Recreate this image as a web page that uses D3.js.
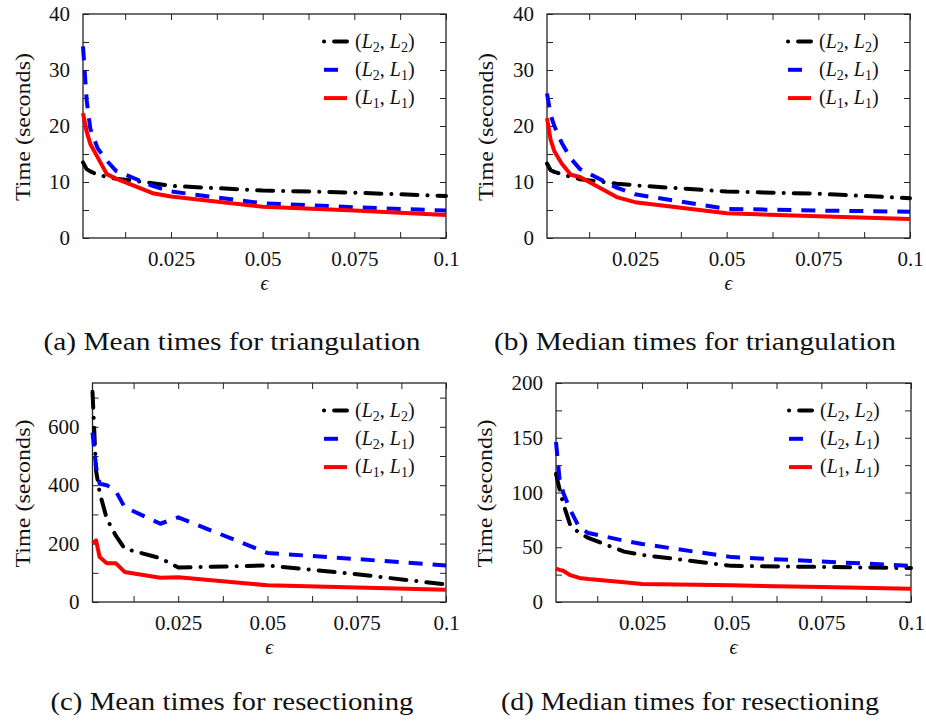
<!DOCTYPE html>
<html>
<head>
<meta charset="utf-8">
<script src="https://cdn.jsdelivr.net/npm/d3@7"></script>
<style>
body { margin:0; background:#fff; }
svg { display:block; font-family:"Liberation Serif", "Times New Roman", serif; }
</style>
</head>
<body>
<div id="vis"></div>
<script>
// epsilon values, shared x for every panel
var eps = [0.001, 0.002, 0.003, 0.005, 0.0075, 0.01, 0.02, 0.025, 0.05, 0.075, 0.1];

// (a) mean times for triangulation
var triMeanL2L2 = [13.5, 12.3, 11.9, 11.3, 10.9, 10.6, 9.8, 9.3, 8.5, 8.1, 7.5];
var triMeanL2L1 = [34.2, 24.6, 19.5, 16.0, 13.8, 12.0, 9.3, 8.3, 6.2, 5.5, 4.9];
var triMeanL1L1 = [22.3, 19.0, 16.8, 14.4, 11.4, 10.6, 8.0, 7.4, 5.6, 4.9, 4.1];

// (b) median times for triangulation
var triMedL2L2 = [13.3, 12.1, 11.8, 11.4, 10.9, 10.5, 9.7, 9.4, 8.3, 7.9, 7.1];
var triMedL2L1 = [25.8, 22.0, 20.0, 17.0, 14.2, 12.3, 9.0, 7.8, 5.2, 4.9, 4.7];
var triMedL1L1 = [21.4, 17.5, 15.5, 13.3, 11.3, 10.9, 7.3, 6.4, 4.4, 3.9, 3.4];

// (c) mean times for resectioning
var resMeanL2L2 = [720, 450, 375, 285, 228, 183, 150, 118, 125, 95, 60];
var resMeanL2L1 = [580, 463, 405, 400, 380, 325, 268, 290, 168, 147, 125];
var resMeanL1L1 = [200, 211, 154, 133, 133, 103, 83, 85, 57, 50, 42];

// (d) median times for resectioning
var resMedL2L2 = [117, 103, 90, 70, 63, 58.5, 46, 43, 33, 32, 31];
var resMedL2L1 = [146, 112, 100, 84, 68, 63, 56, 53, 41, 37, 33];
var resMedL1L1 = [30.5, 29.3, 28.5, 24.5, 22, 21, 18, 16.5, 15.2, 13.7, 12.2];

// ticks and labels
var xTicks = [0.0125, 0.025, 0.0375, 0.05, 0.0625, 0.075, 0.0875, 0.1];
var xLabels = [0.025, 0.05, 0.075, 0.1];
var triTicks = [0, 5, 10, 15, 20, 25, 30, 35, 40];
var triLabels = [0, 10, 20, 30, 40];
var resMeanTicks = [0, 100, 200, 300, 400, 500, 600, 700];
var resMeanLabels = [0, 200, 400, 600];
var resMedTicks = [0, 25, 50, 75, 100, 125, 150, 175, 200];
var resMedLabels = [0, 50, 100, 150, 200];

var legendSubs = [["2", "2"], ["2", "1"], ["1", "1"]];

// line styles: dash is for the curve, keyDash for the legend sample
var styles = [
  {color:"#000", dash:"16,10,0.1,10", keyDash:"0.1,10,16,10", cap:"round"},
  {color:"#0000ff", dash:"14,10", keyDash:"14,10", cap:"butt"},
  {color:"#ff0000", dash:null, keyDash:null, cap:"butt"}
];

var panels = [
  {left:83, right:446, top:14, bottom:238, yMax:40, yTicks:triTicks, yLabels:triLabels,
   data:[triMeanL2L2, triMeanL2L1, triMeanL1L1],
   caption:"(a) Mean times for triangulation", capX:232, capY:350, capW:377, yLabX:22},
  {left:547, right:910, top:14, bottom:238, yMax:40, yTicks:triTicks, yLabels:triLabels,
   data:[triMedL2L2, triMedL2L1, triMedL1L1],
   caption:"(b) Median times for triangulation", capX:695, capY:350, capW:402, yLabX:485},
  {left:92.5, right:446, top:383, bottom:602, yMax:750, yTicks:resMeanTicks, yLabels:resMeanLabels,
   data:[resMeanL2L2, resMeanL2L1, resMeanL1L1],
   caption:"(c) Mean times for resectioning", capX:232, capY:710, capW:363, yLabX:22},
  {left:556, right:911, top:383, bottom:602, yMax:200, yTicks:resMedTicks, yLabels:resMedLabels,
   data:[resMedL2L2, resMedL2L1, resMedL1L1],
   caption:"(d) Median times for resectioning", capX:690, capY:710, capW:378, yLabX:484}
];

var svg = d3.select("#vis").append("svg")
    .attr("width", 926)
    .attr("height", 724);

function has(list, v) {
  return list.some(function(d) { return Math.abs(d - v) < 1e-9; });
}

// d3 axis sets its own font, so restyle after the call
function styleAxis(g) {
  g.attr("font-size", 21).attr("font-family", null);
  g.select(".domain").remove();
  g.selectAll(".tick line").attr("stroke", "#222").attr("stroke-width", 1);
  g.selectAll("text").attr("fill", "#111");
}

panels.forEach(function(p) {
  var x = d3.scaleLinear().domain([0.001, 0.1]).range([p.left, p.right]);
  var y = d3.scaleLinear().domain([0, p.yMax]).range([p.bottom, p.top]);

  var g = svg.append("g");

  ////////// axes //////////
  g.append("g")
      .attr("transform", "translate(0," + p.bottom + ")")
      .call(d3.axisBottom(x).tickValues(xTicks).tickSize(-6).tickPadding(13)
        .tickFormat(function(d) { return has(xLabels, d) ? String(+d.toFixed(4)) : ""; }))
      .call(styleAxis);

  g.append("g")
      .attr("transform", "translate(0," + p.top + ")")
      .call(d3.axisTop(x).tickValues(xTicks).tickSize(-6).tickFormat(""))
      .call(styleAxis);

  g.append("g")
      .attr("transform", "translate(" + p.left + ",0)")
      .call(d3.axisLeft(y).tickValues(p.yTicks).tickSize(-6).tickPadding(13)
        .tickFormat(function(d) { return has(p.yLabels, d) ? d : ""; }))
      .call(styleAxis);

  g.append("g")
      .attr("transform", "translate(" + p.right + ",0)")
      .call(d3.axisRight(y).tickValues(p.yTicks).tickSize(-6).tickFormat(""))
      .call(styleAxis);

  g.append("rect")
      .attr("x", p.left).attr("y", p.top)
      .attr("width", p.right - p.left).attr("height", p.bottom - p.top)
      .attr("fill", "none").attr("stroke", "#222").attr("stroke-width", 1.3);

  ////////// lines //////////
  var line = d3.line()
      .x(function(d, i) { return x(eps[i]); })
      .y(function(d) { return y(d); });

  p.data.forEach(function(vals, i) {
    var s = styles[i];
    g.append("path")
        .datum(vals)
        .attr("d", line)
        .attr("fill", "none")
        .attr("stroke", s.color)
        .attr("stroke-width", 4)
        .attr("stroke-linecap", s.cap)
        .attr("stroke-linejoin", "round")
        .attr("stroke-dasharray", s.dash);
  });

  ////////// legend //////////
  legendSubs.forEach(function(sub, i) {
    var s = styles[i];
    var ly = p.top + 27.5 + i * 28.3;
    g.append("line")
        .attr("x1", p.right - 122).attr("x2", p.right - 99)
        .attr("y1", ly).attr("y2", ly)
        .attr("stroke", s.color).attr("stroke-width", 4)
        .attr("stroke-linecap", s.cap)
        .attr("stroke-dasharray", s.keyDash);
    var t = g.append("text")
        .attr("x", p.right - 91).attr("y", ly + 6)
        .attr("font-size", 20).attr("fill", "#111");
    t.append("tspan").text("(");
    t.append("tspan").attr("font-style", "italic").text("L");
    t.append("tspan").attr("font-size", 14).attr("dy", 4).text(sub[0]);
    t.append("tspan").attr("dy", -4).text(", ");
    t.append("tspan").attr("font-style", "italic").text("L");
    t.append("tspan").attr("font-size", 14).attr("dy", 4).text(sub[1]);
    t.append("tspan").attr("dy", -4).text(")");
  });

  ////////// labels //////////
  var cy = (p.top + p.bottom) / 2 + 1;
  g.append("text")
      .attr("transform", "translate(" + p.yLabX + "," + cy + ") rotate(-90)")
      .attr("text-anchor", "middle")
      .attr("dominant-baseline", "central")
      .attr("font-size", 22)
      .attr("textLength", 148)
      .attr("lengthAdjust", "spacingAndGlyphs")
      .attr("fill", "#111")
      .text("Time (seconds)");

  g.append("text")
      .attr("x", (p.left + p.right) / 2)
      .attr("y", p.bottom + 52)
      .attr("text-anchor", "middle")
      .attr("font-size", 20)
      .attr("font-style", "italic")
      .attr("fill", "#111")
      .text("ϵ");

  g.append("text")
      .attr("x", p.capX)
      .attr("y", p.capY)
      .attr("text-anchor", "middle")
      .attr("font-size", 25)
      .attr("textLength", p.capW)
      .attr("lengthAdjust", "spacingAndGlyphs")
      .attr("fill", "#111")
      .text(p.caption);
});
</script>
</body>
</html>
